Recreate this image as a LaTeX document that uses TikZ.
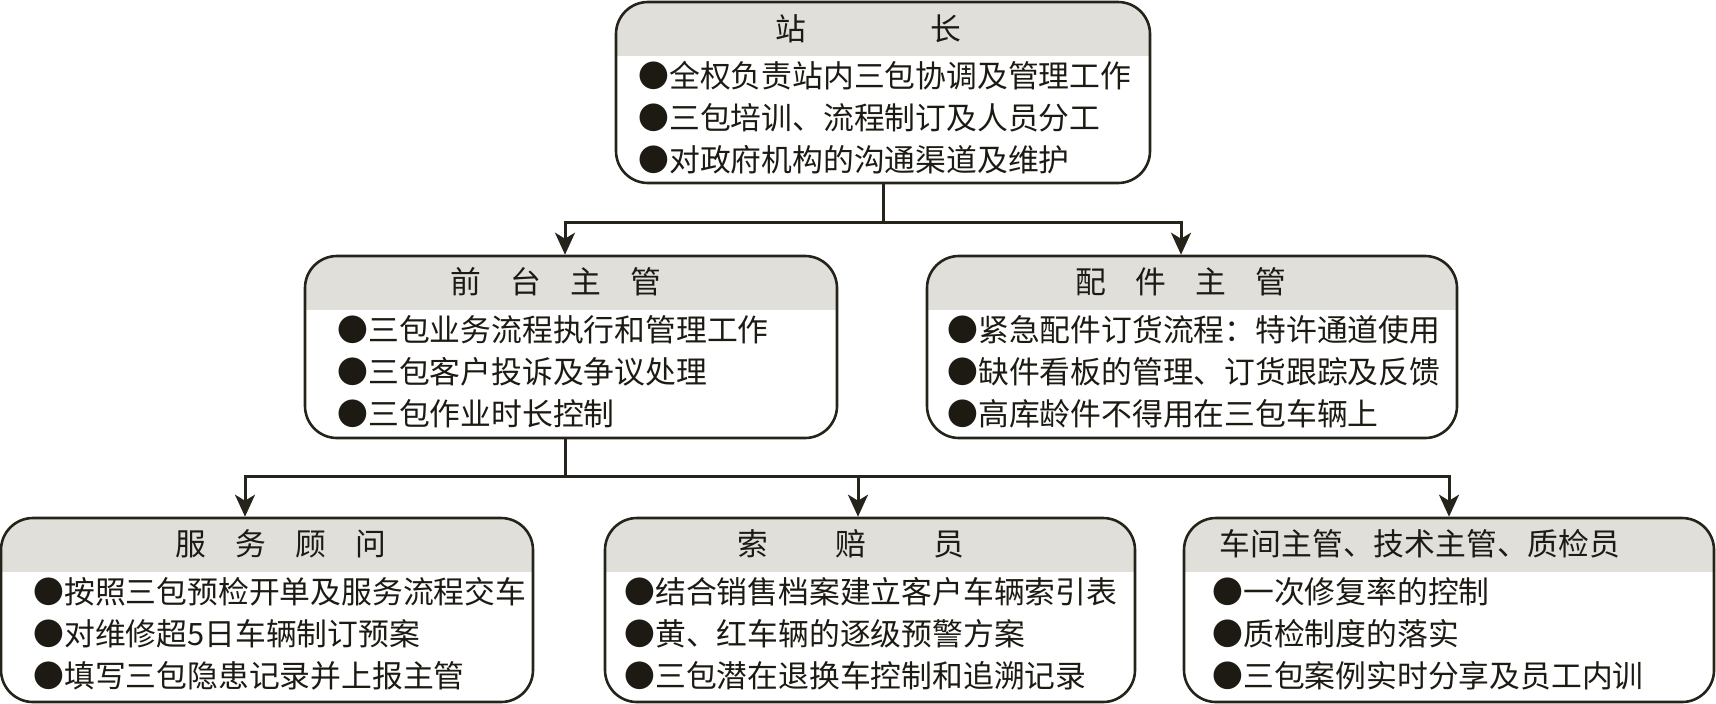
\documentclass[tikz,border=0pt]{standalone}
\usepackage{fontspec}
\setmainfont{Noto Sans CJK SC}
\usetikzlibrary{arrows.meta}
\definecolor{bandgray}{RGB}{224,223,218}
\definecolor{linecol}{RGB}{38,36,26}
\definecolor{textcol}{RGB}{28,26,18}
\tikzstyle{orgbox} = [draw=linecol,line width=1.3pt,rounded corners=16pt,fill=white,inner sep=0pt,
    path picture={
        \fill[bandgray,sharp corners] (path picture bounding box.north west) rectangle ([yshift=-27pt]path picture bounding box.north east);
    }]
\tikzstyle{head} = [inner sep=0pt,text=textcol,font=\fontsize{15.4pt}{21pt}\selectfont]
\tikzstyle{lines} = [inner sep=0pt,anchor=west,align=left,text=textcol,font=\fontsize{15.4pt}{21pt}\selectfont]
\tikzstyle{conn} = [draw=linecol,line width=1.5pt]
\tikzstyle{arr} = [conn,-{Stealth[length=11pt,width=10pt,inset=3pt]}]
\newcommand{\threelines}[3]{
    ●#1\\
    ●#2\\
    ●#3
}
\begin{document}
\begin{tikzpicture}[x=0.5pt,y=-0.5pt]
    \useasboundingbox (0,0) rectangle (1716,703);

    % top level
    \node(chief) [orgbox,minimum width=267pt,minimum height=90.5pt] at (883,92.5) {};
    \node(chief-h) [head] at (868,29) {站\hspace{62pt}长};
    \node(chief-l) [lines] at (638,118) {\threelines{全权负责站内三包协调及管理工作}{三包培训、流程制订及人员分工}{对政府机构的沟通渠道及维护}};

    % second level
    \node(front) [orgbox,minimum width=266pt,minimum height=91pt] at (571,347) {};
    \node(front-h) [head] at (556,282) {前\hspace{14.5pt}台\hspace{14.5pt}主\hspace{14.5pt}管};
    \node(front-l) [lines] at (337,372) {\threelines{三包业务流程执行和管理工作}{三包客户投诉及争议处理}{三包作业时长控制}};

    \node(parts) [orgbox,minimum width=265pt,minimum height=91pt] at (1192,347) {};
    \node(parts-h) [head] at (1181,282) {配\hspace{14.5pt}件\hspace{14.5pt}主\hspace{14.5pt}管};
    \node(parts-l) [lines] at (947,372) {\threelines{紧急配件订货流程：特许通道使用}{缺件看板的管理、订货跟踪及反馈}{高库龄件不得用在三包车辆上}};

    % third level
    \node(advisor) [orgbox,minimum width=266pt,minimum height=92pt] at (267,610) {};
    \node(advisor-h) [head] at (281,544) {服\hspace{14.5pt}务\hspace{14.5pt}顾\hspace{14.5pt}问};
    \node(advisor-l) [lines] at (33,634) {\threelines{按照三包预检开单及服务流程交车}{对维修超5日车辆制订预案}{填写三包隐患记录并上报主管}};

    \node(claim) [orgbox,minimum width=265pt,minimum height=92pt] at (870,610) {};
    \node(claim-h) [head] at (851,544) {索\hspace{33.5pt}赔\hspace{33.5pt}员};
    \node(claim-l) [lines] at (624,634) {\threelines{结合销售档案建立客户车辆索引表}{黄、红车辆的逐级预警方案}{三包潜在退换车控制和追溯记录}};

    \node(shop) [orgbox,minimum width=265pt,minimum height=92pt] at (1449,610) {};
    \node(shop-h) [head] at (1420,544) {车间主管、技术主管、质检员};
    \node(shop-l) [lines] at (1212,634) {\threelines{一次修复率的控制}{质检制度的落实}{三包案例实时分享及员工内训}};

    % connectors
    \coordinate(j1) at (chief.south |- 0,222);
    \draw[conn] (chief.south) -- (j1);
    \draw[arr] (j1) -| ([xshift=-3pt]front.north);
    \draw[arr] (j1) -| ([xshift=-5.5pt]parts.north);

    \coordinate(j2) at ([xshift=-3pt]front.south |- 0,476);
    \draw[conn] ([xshift=-3pt]front.south) -- (j2);
    \draw[arr] (j2) -| ([xshift=-11pt]advisor.north);
    \draw[arr] (j2) -| ([xshift=-6pt]claim.north);
    \draw[arr] (j2) -| (shop.north);
\end{tikzpicture}
\end{document}
